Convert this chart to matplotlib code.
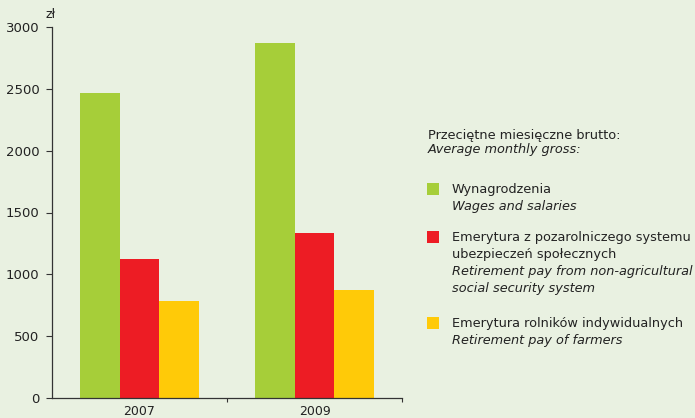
import matplotlib
matplotlib.use("Agg")
import matplotlib.pyplot as plt
import numpy as np

plt.rcParams['font.family'] = ['DejaVu Sans']

# data (zł)
years = ['2007', '2009']
wages = [2465, 2875]
pension_nonagri = [1120, 1330]
pension_farmers = [780, 875]

series_pl = [['Wynagrodzenia'],
             ['Emerytura z pozarolniczego systemu', 'ubezpieczeń społecznych'],
             ['Emerytura rolników indywidualnych']]
series_en = [['Wages and salaries'],
             ['Retirement pay from non-agricultural', 'social security system'],
             ['Retirement pay of farmers']]
colors = ['#a6ce39', '#ed1c24', '#ffca08']
bg = '#e9f1e1'

W, H = 695, 418
fig = plt.figure(figsize=(6.95, 4.18), dpi=100, facecolor=bg)
ax = fig.add_axes([52 / W, 1 - 397.7 / H, 350 / W, 370.4 / H])
ax.set_facecolor(bg)

x = np.arange(len(years))
w = 0.225
for i, vals in enumerate([wages, pension_nonagri, pension_farmers]):
    ax.bar(x + (i - 1) * w, vals, w, color=colors[i], linewidth=0)

ax.set_xlim(-0.5, 1.5)
ax.set_ylim(0, 3000)
ax.set_yticks(range(0, 3001, 500))
ax.set_xticks(x)
ax.set_xticklabels(years)
ax.set_xticks([0.5, 1.5], minor=True)
ax.tick_params(axis='x', which='major', length=0, pad=5, labelsize=9,
               labelcolor='#222222')
ax.tick_params(axis='x', which='minor', length=3, width=0.8, color='#333333')
ax.tick_params(axis='y', length=4, width=0.8, color='#333333', labelsize=9.5,
               pad=5, labelcolor='#222222')
for s in ['top', 'right']:
    ax.spines[s].set_visible(False)
for s in ['left', 'bottom']:
    ax.spines[s].set_color('#333333')
    ax.spines[s].set_linewidth(0.9)

def fy(p):
    return 1 - p / H

fig.text(45 / W, fy(15), 'zł', fontsize=9, va='center', ha='left',
         color='#222222')

# legend, built by hand
fs = 9.3
tc = '#222222'
fig.text(428 / W, fy(135), 'Przeciętne miesięczne brutto:', fontsize=fs,
         va='center', color=tc)
fig.text(428 / W, fy(150), 'Average monthly gross:', fontsize=fs,
         va='center', style='italic', color=tc)

first_line = [189, 237, 323]
step = 17.3
for i in range(3):
    y0 = first_line[i]
    fig.patches.append(plt.Rectangle((427 / W, fy(y0 + 6)), 12 / W, 12 / H,
                                     transform=fig.transFigure,
                                     color=colors[i], lw=0))
    k = 0
    for line in series_pl[i]:
        fig.text(452 / W, fy(y0 + k * step), line, fontsize=fs, va='center',
                 color=tc)
        k += 1
    for line in series_en[i]:
        fig.text(452 / W, fy(y0 + k * step), line, fontsize=fs, va='center',
                 style='italic', color=tc)
        k += 1

fig.savefig('out.png', dpi=100, facecolor=bg)
